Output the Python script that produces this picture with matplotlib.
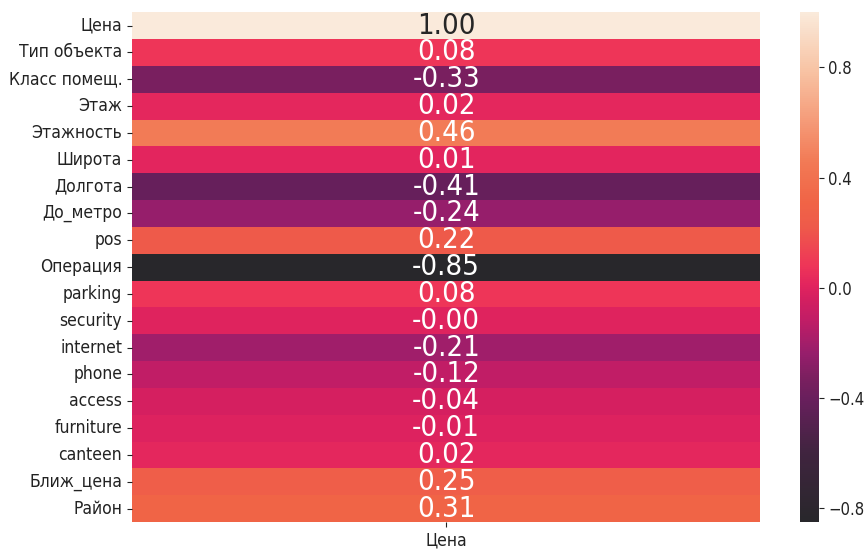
import matplotlib
matplotlib.use("Agg")
import matplotlib.pyplot as plt
from matplotlib.colors import LinearSegmentedColormap
import seaborn as sns
import numpy as np
import pandas as pd

features = ["Цена", "Тип объекта", "Класс помещ.", "Этаж", "Этажность", "Широта",
            "Долгота", "До_метро", "pos", "Операция", "parking", "security",
            "internet", "phone", "access", "furniture", "canteen", "Ближ_цена", "Район"]
corr_price = [1.00, 0.08, -0.33, 0.02, 0.46, 0.01, -0.41, -0.24, 0.22, -0.85,
              0.08, -0.003, -0.21, -0.12, -0.04, -0.01, 0.02, 0.25, 0.31]
column = ["Цена"]
cbar_ticks = [-0.8, -0.4, 0.0, 0.4, 0.8]

# colour scale (rocket-like, as rendered in the reference)
cmap_stops = [-0.85, -0.6, -0.41, -0.33, -0.24, -0.12, -0.04, 0.01, 0.08,
              0.22, 0.31, 0.46, 0.8, 1.0]
cmap_colors = ["#28272b", "#40243f", "#671f5c", "#7a1f5f", "#961e6b", "#c01d66",
               "#d41f60", "#e2245e", "#ee3558", "#ee5a4a", "#f06446", "#f27a55",
               "#f8c5a6", "#faeadb"]
vmin, vmax = min(corr_price), max(corr_price)
pos = [(s - vmin) / (vmax - vmin) for s in cmap_stops]
cmap = LinearSegmentedColormap.from_list("ref_rocket", list(zip(pos, cmap_colors)))

plt.rcParams['font.family'] = ['DejaVu Sans']
plt.rcParams['font.stretch'] = 'condensed'

df = pd.DataFrame({column[0]: corr_price}, index=features)

fig = plt.figure(figsize=(8.68, 5.53), dpi=100)
ax = fig.add_axes([0.152, 0.056, 0.724, 0.922])
cax = fig.add_axes([0.922, 0.056, 0.021, 0.922])

sns.heatmap(df, ax=ax, cbar_ax=cax, annot=True, fmt=".2f", cmap=cmap,
            vmin=vmin, vmax=vmax,
            annot_kws={"fontsize": 21, "fontstretch": "condensed"})

ax.tick_params(axis='y', labelsize=12.5, rotation=0, colors='#222222', labelcolor='#222222')
ax.tick_params(axis='x', labelsize=12.5, rotation=0, colors='#222222', labelcolor='#222222')
cax.set_yticks(cbar_ticks)
cax.tick_params(labelsize=12, colors='#222222')
for s in cax.spines.values():
    s.set_visible(False)

fig.savefig("out.png", dpi=100)
